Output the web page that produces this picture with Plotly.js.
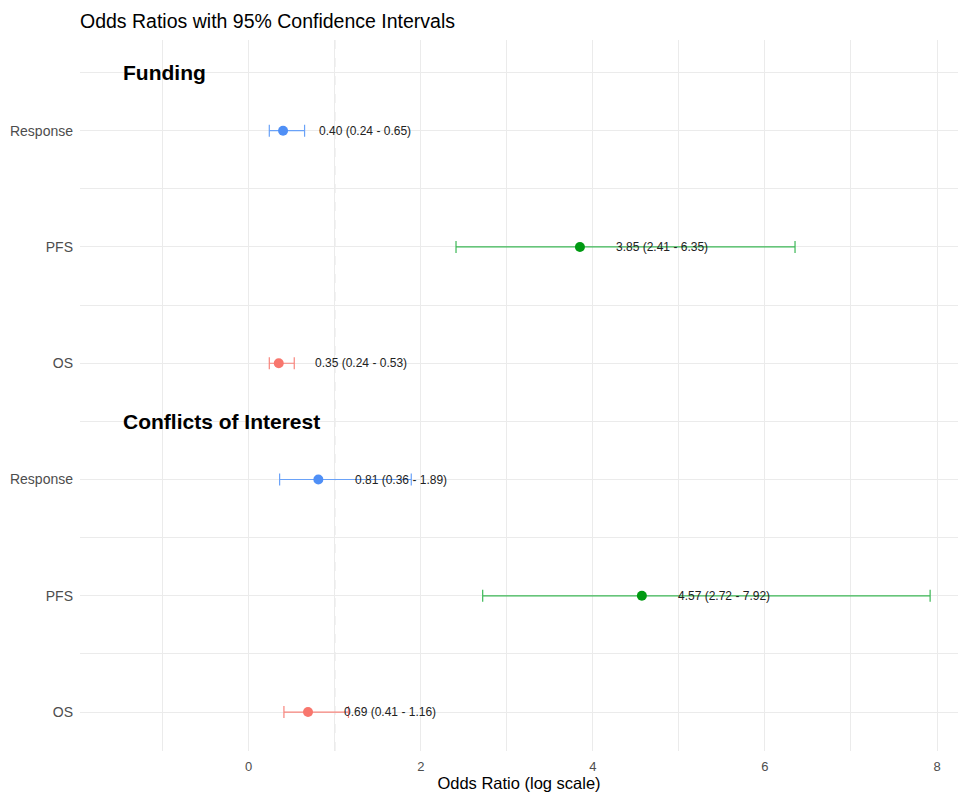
<!DOCTYPE html>
<html>
<head>
<meta charset="utf-8">
<script src="https://cdn.plot.ly/plotly-3.0.1.min.js"></script>
<style>html,body{margin:0;padding:0;background:#fff;}#chart{width:958px;height:792px;}</style>
</head>
<body>
<div id="chart"></div>
<script>
// Data
const groups = ["Funding", "Conflicts of Interest"];
const outcomes = ["Response", "PFS", "OS"];
const estimate = {
  "Funding":               {Response: 0.40, PFS: 3.85, OS: 0.35},
  "Conflicts of Interest": {Response: 0.81, PFS: 4.57, OS: 0.69}
};
const lower = {
  "Funding":               {Response: 0.24, PFS: 2.41, OS: 0.24},
  "Conflicts of Interest": {Response: 0.36, PFS: 2.72, OS: 0.41}
};
const upper = {
  "Funding":               {Response: 0.65, PFS: 6.35, OS: 0.53},
  "Conflicts of Interest": {Response: 1.89, PFS: 7.92, OS: 1.16}
};
const xTicks = [0, 2, 4, 6, 8];

// Styles
const pointColor = {Response: "#4f8ff6", PFS: "#009a12", OS: "#f8766d"};
const barColor   = {Response: "#6aa2f8", PFS: "#3cb856", OS: "#f8857d"};

// Row positions (top to bottom)
const rowPos = {};
let pos = groups.length * outcomes.length;
groups.forEach(g => { outcomes.forEach(o => { rowPos[g + "|" + o] = pos; pos--; }); });
const headerPos = {};
groups.forEach(g => { headerPos[g] = rowPos[g + "|" + outcomes[0]] + 0.5; });

const traces = outcomes.map(o => {
  const xs = [], ys = [], ep = [], em = [];
  groups.forEach(g => {
    const e = estimate[g][o];
    xs.push(e); ys.push(rowPos[g + "|" + o]);
    ep.push(upper[g][o] - e); em.push(e - lower[g][o]);
  });
  return {
    type: "scatter", mode: "markers", x: xs, y: ys, name: o, showlegend: false,
    marker: {color: pointColor[o], size: 10},
    error_x: {type: "data", symmetric: false, array: ep, arrayminus: em,
              color: barColor[o], thickness: 1.2, width: 6},
    hoverinfo: "x+y"
  };
});

const annotations = [];
groups.forEach(g => {
  outcomes.forEach(o => {
    const e = estimate[g][o];
    annotations.push({
      x: e + 0.4, y: rowPos[g + "|" + o], xref: "x", yref: "y",
      text: e.toFixed(2) + " (" + lower[g][o].toFixed(2) + " - " + upper[g][o].toFixed(2) + ")",
      showarrow: false, xanchor: "left", yanchor: "middle",
      font: {family: "Liberation Sans, Arial, sans-serif", size: 12, color: "#222"}
    });
  });
  annotations.push({
    x: -1.48, y: headerPos[g], xref: "x", yref: "y", text: "<b>" + g + "</b>",
    showarrow: false, xanchor: "left", yanchor: "middle",
    font: {family: "Liberation Sans, Arial, sans-serif", size: 21, color: "#000"}
  });
});

const tickvals = [], ticktext = [];
groups.forEach(g => outcomes.forEach(o => { tickvals.push(rowPos[g + "|" + o]); ticktext.push(o); }));
const minorY = tickvals.map(v => v + 0.5);

const layout = {
  width: 958, height: 792,
  margin: {l: 80, r: 0, t: 40, b: 41},
  paper_bgcolor: "#fff", plot_bgcolor: "#fff",
  font: {family: "Liberation Sans, Arial, sans-serif"},
  title: {text: "Odds Ratios with 95% Confidence Intervals", x: 80/958, xref: "container", xanchor: "left",
          y: 1 - 21/792, yref: "container", yanchor: "middle",
          font: {size: 19.5, color: "#000"}},
  xaxis: {
    range: [-1.96, 8.244], tickvals: xTicks, ticktext: xTicks.map(String),
    showgrid: true, gridcolor: "#ebebeb", gridwidth: 1, zeroline: false, showline: false,
    ticks: "", tickfont: {size: 13, color: "#4d4d4d"}, ticklabelstandoff: 6,
    minor: {dtick: 1, tick0: 1, showgrid: true, gridcolor: "#ebebeb", gridwidth: 1, ticks: ""},
    title: {text: "Odds Ratio (log scale)", font: {size: 16.5, color: "#000"}, standoff: 3}
  },
  yaxis: {
    range: [0.665, 6.78], tickmode: "array", tickvals: tickvals, ticktext: ticktext,
    showgrid: true, gridcolor: "#ebebeb", gridwidth: 1, zeroline: false, showline: false,
    ticks: "", tickfont: {size: 14, color: "#4d4d4d"}, ticklabelstandoff: 6,
    minor: {tickmode: "array", tickvals: minorY, showgrid: true, gridcolor: "#ebebeb", gridwidth: 1, ticks: ""}
  },
  shapes: [{type: "line", xref: "x", yref: "paper", x0: 1, x1: 1, y0: 0, y1: 1,
            line: {color: "#b8b8b8", width: 1, dash: "dash"}, layer: "below"}],
  annotations: annotations
};

Plotly.newPlot("chart", traces, layout, {displayModeBar: false, staticPlot: true});
</script>
</body>
</html>
